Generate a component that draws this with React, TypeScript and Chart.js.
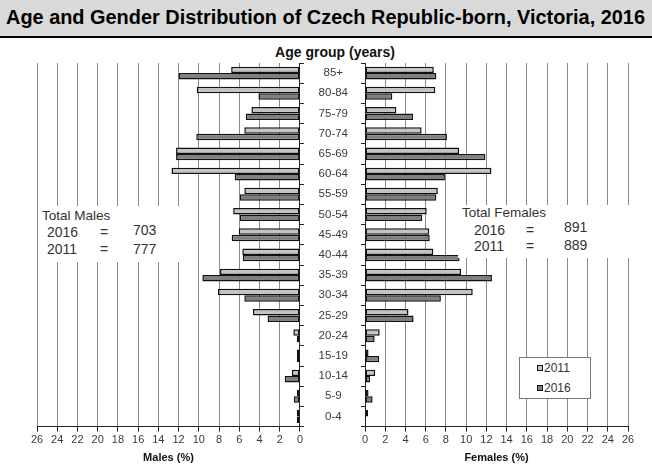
import React, { useEffect, useRef } from 'react';
import { Chart, registerables } from 'chart.js';

Chart.register(...registerables);

const ageGroups = ['85+', '80-84', '75-79', '70-74', '65-69', '60-64', '55-59', '50-54', '45-49', '40-44', '35-39', '30-34', '25-29', '20-24', '15-19', '10-14', '5-9', '0-4'];
const males2011 = [6.8, 10.2, 4.8, 5.5, 12.25, 12.7, 5.5, 6.6, 6.05, 5.7, 7.9, 8.1, 4.65, 0.65, 0.3, 0.8, 0.3, 0.3];
const males2016 = [12.0, 4.1, 5.35, 10.25, 12.25, 6.45, 5.95, 5.95, 6.75, 5.65, 9.65, 5.5, 3.2, 0.3, 0.3, 1.5, 0.6, 0.3];
const females2011 = [6.8, 6.95, 3.1, 5.6, 9.3, 12.5, 7.2, 6.1, 6.35, 6.75, 9.5, 10.65, 4.3, 1.45, 0.35, 1.0, 0.35, 0.3];
const females2016 = [7.05, 2.7, 4.75, 8.1, 11.9, 7.9, 7.05, 5.65, 6.4, 9.35, 12.55, 7.5, 4.8, 0.95, 1.4, 0.5, 0.75, 0];
const seriesNames = ['2011', '2016'];
const axisMax = 26;
const axisStep = 2;
const titleText = 'Age and Gender Distribution of Czech Republic-born, Victoria, 2016';
const totalMales = { label: 'Total Males', y2016: '703', y2011: '777' };
const totalFemales = { label: 'Total Females', y2016: '891', y2011: '889' };

const COLOR_2011 = '#c4c4c4';
const COLOR_2016 = '#7f7f7f';
const FONT = "'Liberation Sans', Arial, Helvetica, sans-serif";

function makeDatasets(a: number[], b: number[]) {
  const common = {
    borderColor: '#111',
    borderWidth: 1.5,
    borderSkipped: false as const,
    categoryPercentage: 0.64,
    barPercentage: 1.0,
  };
  return [
    { label: seriesNames[0], data: a, backgroundColor: COLOR_2011, ...common },
    { label: seriesNames[1], data: b, backgroundColor: COLOR_2016, ...common },
  ];
}

function xScale(reverse: boolean, title: string) {
  return {
    reverse,
    min: 0,
    max: axisMax,
    ticks: {
      stepSize: axisStep,
      color: '#3a3a3a',
      font: { family: FONT, size: 11 },
      padding: 2,
      maxRotation: 0,
      autoSkip: false,
    },
    grid: {
      color: '#8a8a8a',
      lineWidth: 1,
      tickColor: '#222',
      tickLength: 5,
      drawTicks: true,
    },
    border: { display: true, color: '#222', width: 1 },
    title: {
      display: true,
      text: title,
      color: '#111',
      font: { family: FONT, size: 11, weight: 'bold' as const },
      padding: { top: 3, bottom: 4 },
    },
  };
}

export default function App() {
  const leftRef = useRef<HTMLCanvasElement | null>(null);
  const rightRef = useRef<HTMLCanvasElement | null>(null);
  const titleRef = useRef<HTMLSpanElement | null>(null);

  useEffect(() => {
    document.body.style.margin = '0';
    const t = titleRef.current;
    if (t) {
      t.style.transform = 'none';
      const w = t.getBoundingClientRect().width;
      if (w > 0) t.style.transform = `scaleX(${639 / w})`;
    }

    const left = new Chart(leftRef.current as HTMLCanvasElement, {
      type: 'bar',
      data: { labels: ageGroups, datasets: makeDatasets(males2011, males2016) as any },
      options: {
        indexAxis: 'y',
        animation: false,
        responsive: false,
        maintainAspectRatio: false,
        layout: { padding: { left: 37, right: 0, top: 23, bottom: 3 } },
        plugins: { legend: { display: false }, tooltip: { enabled: false } },
        scales: {
          x: xScale(true, 'Males (%)') as any,
          y: {
            position: 'right',
            ticks: { display: false },
            grid: { drawOnChartArea: false, drawTicks: true, tickLength: 4, color: '#222', offset: true },
            border: { display: true, color: '#222', width: 1 },
            afterFit: (s: any) => { s.width = 4; },
          } as any,
        },
      },
    });

    const right = new Chart(rightRef.current as HTMLCanvasElement, {
      type: 'bar',
      data: { labels: ageGroups, datasets: makeDatasets(females2011, females2016) as any },
      options: {
        indexAxis: 'y',
        animation: false,
        responsive: false,
        maintainAspectRatio: false,
        layout: { padding: { left: 0, right: 24, top: 23, bottom: 3 } },
        plugins: { legend: { display: false }, tooltip: { enabled: false } },
        scales: {
          x: xScale(false, 'Females (%)') as any,
          y: {
            position: 'left',
            ticks: {
              display: true,
              color: '#3a3a3a',
              font: { family: FONT, size: 11.5 },
              crossAlign: 'center',
              padding: 13,
              autoSkip: false,
            },
            grid: { drawOnChartArea: false, drawTicks: true, tickLength: 4, color: '#222', offset: true },
            border: { display: true, color: '#222', width: 1 },
            afterFit: (s: any) => { s.width = 64; },
          } as any,
        },
      },
    });

    return () => {
      left.destroy();
      right.destroy();
    };
  }, []);

  const textStyle = (x: number, y: number, size: number, extra: any = {}) => ({
    position: 'absolute' as const,
    left: x,
    top: y - size * 0.6,
    fontSize: size,
    lineHeight: `${size * 1.2}px`,
    fontFamily: FONT,
    color: '#333',
    whiteSpace: 'nowrap' as const,
    ...extra,
  });

  const legendItem = (label: string, color: string, y: number) => (
    <div style={{ position: 'absolute', left: 537, top: y - 7, height: 14, display: 'flex', alignItems: 'center' }}>
      <div style={{ width: 4, height: 4, background: color, border: '1.5px solid #111', marginRight: 1 }} />
      <span style={{ fontFamily: FONT, fontSize: 12, color: '#333' }}>{label}</span>
    </div>
  );

  return (
    <div style={{ position: 'relative', width: 652, height: 472, overflow: 'hidden', background: '#fff' }}>
      <div style={{ position: 'absolute', left: 0, top: 0, width: 652, height: 36, background: '#d9d9d9' }} />
      <div style={{ position: 'absolute', left: 0, top: 36, width: 652, height: 2, background: '#000' }} />
      <span
        ref={titleRef}
        style={{
          position: 'absolute',
          left: 6,
          top: 5,
          display: 'inline-block',
          transformOrigin: 'left center',
          fontFamily: "'Liberation Sans Narrow', 'Arial Narrow', " + FONT,
          fontWeight: 'bold',
          fontSize: 20,
          lineHeight: '24px',
          color: '#000',
          whiteSpace: 'nowrap',
        }}
      >
        {titleText}
      </span>
      <div
        style={{
          position: 'absolute',
          left: 235,
          width: 200,
          top: 44,
          textAlign: 'center',
          fontFamily: "'Liberation Sans Narrow', 'Arial Narrow', " + FONT,
          fontWeight: 'bold',
          fontSize: 14,
          lineHeight: '16px',
          color: '#111',
        }}
      >
        Age group (years)
      </div>

      <canvas ref={leftRef} width={305} height={432} style={{ position: 'absolute', left: 0, top: 40, width: 305, height: 432 }} />
      <canvas ref={rightRef} width={351} height={432} style={{ position: 'absolute', left: 301, top: 40, width: 351, height: 432 }} />

      <div style={{ position: 'absolute', left: 39, top: 206, width: 146, height: 56, background: '#fff' }} />
      <div style={textStyle(42, 216, 13.5)}>{totalMales.label}</div>
      <div style={textStyle(47, 232.5, 14)}>2016</div>
      <div style={textStyle(100, 232.5, 14)}>=</div>
      <div style={textStyle(133, 230, 14)}>{totalMales.y2016}</div>
      <div style={textStyle(47, 249, 14)}>2011</div>
      <div style={textStyle(100, 249, 14)}>=</div>
      <div style={textStyle(133, 249, 14)}>{totalMales.y2011}</div>

      <div style={{ position: 'absolute', left: 458, top: 205, width: 172, height: 53, background: '#fff' }} />
      <div style={textStyle(462, 213, 13.5)}>{totalFemales.label}</div>
      <div style={textStyle(474, 230, 14)}>2016</div>
      <div style={textStyle(526, 230, 14)}>=</div>
      <div style={textStyle(564, 227.5, 14)}>{totalFemales.y2016}</div>
      <div style={textStyle(474, 246, 14)}>2011</div>
      <div style={textStyle(526, 246, 14)}>=</div>
      <div style={textStyle(564, 245, 14)}>{totalFemales.y2011}</div>

      <div style={{ position: 'absolute', left: 519, top: 357, width: 70, height: 40, background: '#fff', border: '1px solid #777' }} />
      {legendItem(seriesNames[0], COLOR_2011, 368)}
      {legendItem(seriesNames[1], COLOR_2016, 388)}
    </div>
  );
}
